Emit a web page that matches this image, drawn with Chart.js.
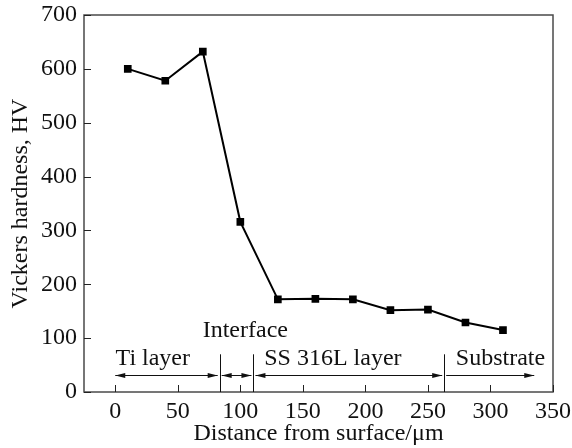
<!DOCTYPE html>
<html>
<head>
<meta charset="utf-8">
<script src="https://cdn.jsdelivr.net/npm/chart.js@4"></script>
<style>
  html, body { margin: 0; padding: 0; background: #fff; }
  #wrap { width: 572px; height: 448px; }
</style>
</head>
<body>
<div id="wrap"><canvas id="hvChart" width="572" height="448"></canvas></div>
<script>
// measured points (distance um, hardness HV)
const distances = [10, 40, 70, 100, 130, 160, 190, 220, 250, 280, 310];
const hardness = [600, 578, 632, 316, 172, 173, 172, 152, 153, 129, 115];

const xTicks = [0, 50, 100, 150, 200, 250, 300, 350];
const yTicks = [0, 100, 200, 300, 400, 500, 600, 700];

// layer boundaries and labels
const boundaries = [83.5, 110.5, 263];
const layerNames = ["Ti layer", "Interface", "SS 316L layer", "Substrate"];
const layerLabelX = [30, 104, 174, 308];
const layerLabelY = [61, 113, 61, 61];
const arrowFrom = [0, 83.5, 110.5, 263];
const arrowTo = [83.5, 110.5, 263, 335];
const arrowY = 32;
const boundaryTop = 70;

const FONT = "Liberation Serif, Times New Roman, serif";

const frame = {
  id: "frame",
  afterDraw(chart) {
    const { ctx, chartArea: a, scales } = chart;
    const x = scales.x, y = scales.y;
    ctx.save();
    ctx.strokeStyle = "#4a4a4a";
    ctx.lineWidth = 1.5;
    ctx.strokeRect(a.left, a.top, a.right - a.left, a.bottom - a.top);

    // inside tick marks
    ctx.strokeStyle = "#222";
    ctx.lineWidth = 1;
    xTicks.forEach(v => {
      const px = Math.round(x.getPixelForValue(v)) + 0.5;
      ctx.beginPath();
      ctx.moveTo(px, a.bottom);
      ctx.lineTo(px, a.bottom - 7);
      ctx.stroke();
    });
    yTicks.forEach(v => {
      const py = Math.round(y.getPixelForValue(v)) + 0.5;
      ctx.beginPath();
      ctx.moveTo(a.left, py);
      ctx.lineTo(a.left + 7, py);
      ctx.stroke();
    });

    // boundaries
    ctx.strokeStyle = "#111";
    boundaries.forEach(v => {
      const px = Math.round(x.getPixelForValue(v)) + 0.5;
      ctx.beginPath();
      ctx.moveTo(px, y.getPixelForValue(0));
      ctx.lineTo(px, y.getPixelForValue(boundaryTop));
      ctx.stroke();
    });

    // arrows
    const ay = Math.round(y.getPixelForValue(arrowY)) + 0.5;
    const head = (px, dir) => {
      ctx.beginPath();
      ctx.moveTo(px, ay);
      ctx.lineTo(px - dir * 10, ay - 2.5);
      ctx.lineTo(px - dir * 10, ay + 2.5);
      ctx.closePath();
      ctx.fill();
    };
    ctx.fillStyle = "#111";
    arrowFrom.forEach((f, i) => {
      const p1 = x.getPixelForValue(f) + (i > 0 ? 2 : 0);
      const p2 = x.getPixelForValue(arrowTo[i]) - (i < 3 ? 2 : 0);
      ctx.beginPath();
      ctx.moveTo(p1, ay);
      ctx.lineTo(p2, ay);
      ctx.stroke();
      if (i < 3) head(p1, -1);
      head(p2, 1);
    });

    // labels
    ctx.fillStyle = "#111";
    ctx.font = "24px " + FONT;
    ctx.textAlign = "center";
    ctx.textBaseline = "middle";
    layerNames.forEach((n, i) => {
      ctx.fillText(n, x.getPixelForValue(layerLabelX[i]), y.getPixelForValue(layerLabelY[i]));
    });
    ctx.restore();
  }
};

new Chart(document.getElementById("hvChart").getContext("2d"), {
  type: "scatter",
  data: {
    datasets: [{
      data: distances.map((d, i) => ({ x: d, y: hardness[i] })),
      showLine: true,
      borderColor: "#000",
      backgroundColor: "#000",
      borderWidth: 2,
      pointStyle: "rect",
      pointRadius: 4,
      tension: 0
    }]
  },
  options: {
    responsive: false,
    animation: false,
    devicePixelRatio: 1,
    layout: { padding: { top: 15, right: 19, left: 0, bottom: 0 } },
    plugins: { legend: { display: false }, tooltip: { enabled: false } },
    scales: {
      x: {
        type: "linear",
        min: -25,
        max: 350,
        afterBuildTicks: s => { s.ticks = xTicks.map(v => ({ value: v })); },
        afterFit: s => { s.height = 56; s.paddingLeft = 0; s.paddingRight = 0; },
        grid: { display: false, drawTicks: false },
        border: { display: false },
        ticks: { color: "#111", font: { family: FONT, size: 24 }, padding: 5, maxRotation: 0 },
        title: { display: true, text: "Distance from surface/μm", color: "#111", font: { family: FONT, size: 24 }, padding: { top: 0, bottom: 0 } }
      },
      y: {
        min: 0,
        max: 700,
        afterBuildTicks: s => { s.ticks = yTicks.map(v => ({ value: v })); },
        afterFit: s => { s.width = 84; s.paddingTop = 0; s.paddingBottom = 0; },
        grid: { display: false, drawTicks: false },
        border: { display: false },
        ticks: { color: "#111", font: { family: FONT, size: 24 }, padding: 7 },
        title: { display: true, text: "Vickers hardness, HV", color: "#111", font: { family: FONT, size: 24 }, padding: { top: 6, bottom: 0 } }
      }
    }
  },
  plugins: [frame]
});
</script>
</body>
</html>
